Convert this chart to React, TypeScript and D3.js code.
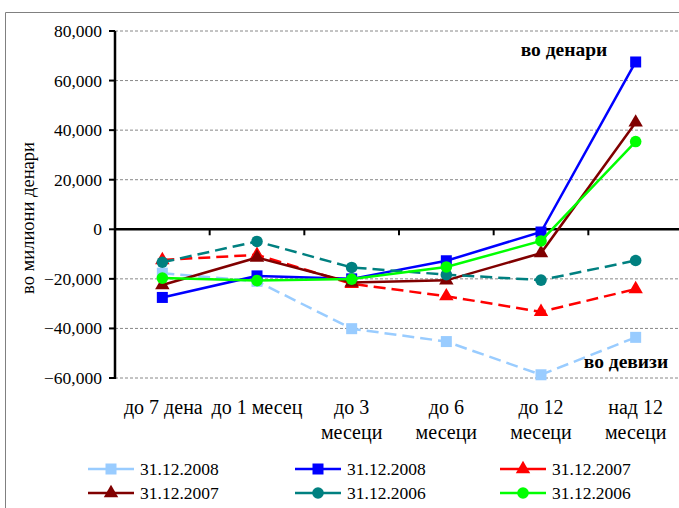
import React from "react";
import * as d3 from "d3";

const categories: string[][] = [
  ["до 7 дена"],
  ["до 1 месец"],
  ["до 3", "месеци"],
  ["до 6", "месеци"],
  ["до 12", "месеци"],
  ["над 12", "месеци"],
];
const yTicks = [-60000, -40000, -20000, 0, 20000, 40000, 60000, 80000];

const devizi2008 = [-17700, -21000, -40100, -45300, -58700, -43600];
const denari2008 = [-27500, -18800, -20000, -12700, -1100, 67500];
const devizi2007 = [-12400, -10300, -22000, -27000, -33300, -24100];
const denari2007 = [-22500, -11400, -21500, -20600, -9600, 43100];
const devizi2006 = [-13300, -4900, -15400, -18300, -20500, -12600];
const denari2006 = [-19700, -20700, -20100, -15200, -4700, 35400];

type S = { name: string; values: number[]; color: string; dash: string | null; marker: "square" | "triangle" | "circle" };
const series: S[] = [
  { name: "31.12.2008", values: devizi2008, color: "#99ccff", dash: "12,6", marker: "square" },
  { name: "31.12.2008", values: denari2008, color: "#0000ff", dash: null, marker: "square" },
  { name: "31.12.2007", values: devizi2007, color: "#ff0000", dash: "12,6", marker: "triangle" },
  { name: "31.12.2007", values: denari2007, color: "#800000", dash: null, marker: "triangle" },
  { name: "31.12.2006", values: devizi2006, color: "#008080", dash: "12,6", marker: "circle" },
  { name: "31.12.2006", values: denari2006, color: "#00ff00", dash: null, marker: "circle" },
];

const FONT = "Liberation Serif";

function Marker({ type, x, y, color }: { type: string; x: number; y: number; color: string }) {
  if (type === "square") return <rect x={x - 5.5} y={y - 5.5} width={11} height={11} fill={color} />;
  if (type === "triangle") return <path d={d3.symbol(d3.symbolTriangle, 90)() as string} transform={`translate(${x},${y})`} fill={color} />;
  return <circle cx={x} cy={y} r={5.8} fill={color} />;
}

function T(props: any) {
  const { children, size, ...rest } = props;
  return (
    <text {...rest} fontFamily={FONT} fontSize={size} style={{ fontFamily: FONT, fontSize: size + "px" }}>
      {children}
    </text>
  );
}

export default function App() {
  const W = 679, H = 508;
  const left = 115, right = 683, top = 31, bottom = 378;
  const x = d3.scaleBand<number>().domain(d3.range(categories.length)).range([left, right]);
  const y = d3.scaleLinear().domain([-60000, 80000]).range([bottom, top]);
  const fmt = d3.format(",");
  const cx = (i: number) => (x(i) as number) + x.bandwidth() / 2;
  const line = d3.line<number>().x((_, i) => cx(i)).y((v) => y(v));
  const legendPos = [
    [88, 469], [295, 469], [500, 469],
    [88, 493], [295, 493], [500, 493],
  ];
  return (
    <div style={{ position: "absolute", left: 0, top: 0, fontFamily: FONT }}>
      <svg width={W} height={H}>
        <rect x={0} y={0} width={W} height={H} fill="#fff" />
        <path d={`M5.5,${H} V12.5 H${W}`} fill="none" stroke="#808080" strokeWidth={1} />
        {yTicks.filter((t) => t !== 0).map((t) => (
          <line key={t} x1={left} x2={W} y1={y(t)} y2={y(t)} stroke="#888" strokeWidth={1} strokeDasharray="3,2" />
        ))}
        {yTicks.map((t) => (
          <g key={"t" + t}>
            <line x1={left - 6} x2={left} y1={y(t)} y2={y(t)} stroke="#000" strokeWidth={2} />
            <T x={left - 13} y={y(t) + 6} textAnchor="end" size={17.5}>{fmt(t)}</T>
          </g>
        ))}
        <line x1={left} x2={left} y1={top} y2={bottom + 1} stroke="#000" strokeWidth={2.5} />
        <line x1={left} x2={W} y1={y(0)} y2={y(0)} stroke="#000" strokeWidth={2.5} />
        {d3.range(1, categories.length).map((i) => (
          <line key={i} x1={x(i) as number} x2={x(i) as number} y1={y(0)} y2={y(0) + 6} stroke="#000" strokeWidth={2} />
        ))}
        <T transform={`translate(34,218) rotate(-90)`} textAnchor="middle" size={18.5}>во милиони денари</T>
        {categories.map((c, i) =>
          c.map((l, j) => (
            <T key={i + "-" + j} x={cx(i) + (i === 0 ? 1 : 0)} y={414 + j * 25} textAnchor="middle" size={20}>{l}</T>
          ))
        )}
        {series.map((s, k) => (
          <g key={k}>
            <path d={line(s.values) as string} fill="none" stroke={s.color} strokeWidth={2.5} strokeDasharray={s.dash ?? undefined} />
            {s.values.map((v, i) => (
              <Marker key={i} type={s.marker} x={cx(i)} y={y(v)} color={s.color} />
            ))}
          </g>
        ))}
        <T x={564} y={56} textAnchor="middle" size={19.5} fontWeight="bold">во денари</T>
        <T x={626} y={368} textAnchor="middle" size={19.5} fontWeight="bold">во девизи</T>
        {series.map((s, k) => {
          const [lx, ly] = legendPos[k];
          return (
            <g key={"l" + k}>
              <line x1={lx} x2={lx + 46} y1={ly} y2={ly} stroke={s.color} strokeWidth={2.5} />
              <Marker type={s.marker} x={lx + 23} y={ly} color={s.color} />
              <T x={lx + 52} y={ly + 6} size={17.5}>{s.name}</T>
            </g>
          );
        })}
      </svg>
    </div>
  );
}
